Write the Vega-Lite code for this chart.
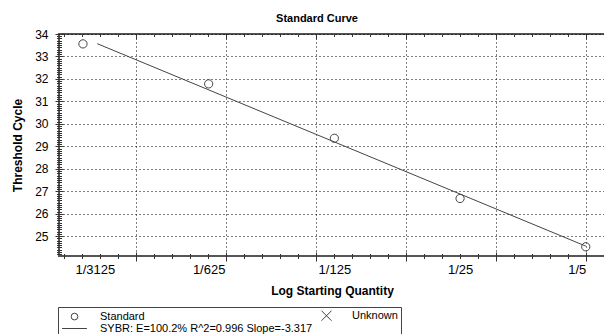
{
  "$schema": "https://vega.github.io/schema/vega-lite/v6.json",
  "width": 546,
  "height": 222,
  "autosize": {"type": "none"},
  "padding": {"left": 59, "top": 34, "right": 0, "bottom": 78},
  "title": {"text": "Standard Curve", "fontSize": 11, "fontWeight": "bold", "font": "Liberation Sans", "color": "#000", "offset": 4, "dx": -15, "anchor": "middle"},
  "config": {
    "font": "Liberation Sans",
    "view": {"stroke": "#555", "strokeWidth": 2},
    "legend": {
      "orient": "none", "legendX": -1, "legendY": 273,
      "columns": 2, "gridAlign": "all", "columnPadding": -5, "rowPadding": -1,
      "padding": 3, "strokeColor": "#444", "fillColor": "white",
      "labelFontSize": 11, "labelColor": "#000", "labelFont": "Liberation Sans", "labelLimit": 400,
      "symbolSize": 45, "symbolStrokeColor": "#444", "symbolFillColor": "transparent", "symbolStrokeWidth": 1,
      "symbolOffset": 8, "labelOffset": 20
    }
  },
  "datasets": {
    "points": [
      {"log_quantity": -3.49485, "ct": 33.56, "series": "Standard"},
      {"log_quantity": -2.79588, "ct": 31.78, "series": "Standard"},
      {"log_quantity": -2.09691, "ct": 29.36, "series": "Standard"},
      {"log_quantity": -1.39794, "ct": 26.68, "series": "Standard"},
      {"log_quantity": -0.69897, "ct": 24.53, "series": "Standard"}
    ],
    "fit": [
      {"log_quantity": -3.4155, "ct": 33.57},
      {"log_quantity": -0.699, "ct": 24.56}
    ]
  },
  "resolve": {"axis": {"x": "independent", "y": "independent"}},
  "layer": [
    {
      "data": {"name": "fit"},
      "mark": {"type": "line", "color": "#444", "strokeWidth": 1},
      "encoding": {
        "x": {"field": "log_quantity", "type": "quantitative", "scale": {"domain": [-3.628, -0.592], "nice": false, "zero": false},
          "axis": {"orient": "bottom", "values": [-0.699, -1.199, -1.699, -2.199, -2.699, -3.199], "grid": true, "gridDash": [1, 3], "gridColor": "#000", "gridWidth": 1, "labels": false, "ticks": false, "domain": false, "title": null}},
        "y": {"field": "ct", "type": "quantitative", "scale": {"domain": [24.12, 34], "nice": false, "zero": false},
          "axis": {"orient": "left", "values": [25, 26, 27, 28, 29, 30, 31, 32, 33, 34], "grid": false, "labels": false, "ticks": true, "tickSize": 8, "offset": -4, "tickColor": "#333", "tickWidth": 1, "domain": false, "title": null}}
      }
    },
    {
      "data": {"name": "points"},
      "mark": {"type": "point", "filled": false, "size": 68, "color": "#444", "strokeWidth": 1, "opacity": 1},
      "encoding": {
        "x": {"field": "log_quantity", "type": "quantitative",
          "axis": {"orient": "bottom", "values": [-3.49485, -2.79588, -2.09691, -1.39794, -0.69897],
            "labelExpr": "'1/' + format(pow(10, -datum.value), '.0f')",
            "labelAlign": {"condition": [{"test": "datum.value < -3", "value": "left"}, {"test": "datum.value > -1", "value": "right"}], "value": "center"},
            "labelOffset": {"condition": {"test": "datum.value < -3", "value": -8}, "value": 0},
            "title": "Log Starting Quantity", "grid": false, "ticks": false, "domain": false,
            "labelFontSize": 13, "labelColor": "#000", "labelPadding": 7,
            "titleFontSize": 12, "titleFontWeight": "bold", "titleColor": "#000", "titlePadding": 9}},
        "y": {"field": "ct", "type": "quantitative",
          "axis": {"orient": "left", "values": [25, 26, 27, 28, 29, 30, 31, 32, 33, 34], "title": "Threshold Cycle",
            "grid": true, "gridDash": [1, 3], "gridColor": "#000", "gridWidth": 1, "ticks": false, "domain": false,
            "labelFontSize": 12, "labelColor": "#000", "labelPadding": 11,
            "titleFontSize": 12, "titleFontWeight": "bold", "titleColor": "#000", "titlePadding": 10}},
        "shape": {"field": "series", "type": "nominal",
          "scale": {"domain": ["Standard", "SYBR: E=100.2% R^2=0.996 Slope=-3.317", "Unknown"],
            "range": ["circle", "M-3.7,0L3.7,0", "M-1.5,-1.5L1.5,1.5M-1.5,1.5L1.5,-1.5"]},
          "legend": {"title": null}}
      }
    },
    {
      "data": {"name": "points"},
      "mark": {"type": "point", "opacity": 0},
      "encoding": {
        "x": {"field": "log_quantity", "type": "quantitative",
          "axis": {"orient": "bottom", "values": [-0.699, -1.199, -1.699, -2.199, -2.699, -3.199], "grid": false, "labels": false, "ticks": true, "tickSize": 9, "offset": -4, "tickColor": "#333", "tickWidth": 1, "domain": false, "title": null}},
        "y": {"field": "ct", "type": "quantitative",
          "axis": {"orient": "left", "tickCount": 100, "grid": false, "labels": false, "ticks": true, "tickSize": 5, "offset": -2.5, "tickColor": "#333", "tickWidth": 1, "domain": false, "title": null}}
      }
    },
    {
      "data": {"name": "points"},
      "mark": {"type": "point", "opacity": 0},
      "encoding": {
        "x": {"field": "log_quantity", "type": "quantitative",
          "axis": {"orient": "bottom", "values": [-0.599, -0.799, -0.899, -0.999, -1.099, -1.299, -1.399, -1.499, -1.599, -1.799, -1.899, -1.999, -2.099, -2.299, -2.399, -2.499, -2.599, -2.799, -2.899, -2.999, -3.099, -3.299, -3.399, -3.499, -3.599], "grid": false, "labels": false, "ticks": true, "tickSize": 5, "offset": -2.5, "tickColor": "#333", "tickWidth": 1, "domain": false, "title": null}},
        "y": {"field": "ct", "type": "quantitative", "axis": null}
      }
    },
    {
      "data": {"name": "points"},
      "mark": {"type": "point", "opacity": 0},
      "encoding": {
        "x": {"field": "log_quantity", "type": "quantitative",
          "axis": {"orient": "top", "values": [-0.699, -1.199, -1.699, -2.199, -2.699, -3.199], "grid": false, "labels": false, "ticks": true, "tickSize": 5, "offset": -5, "tickColor": "#333", "tickWidth": 1, "domain": false, "title": null}},
        "y": {"field": "ct", "type": "quantitative", "axis": null}
      }
    },
    {
      "data": {"name": "points"},
      "mark": {"type": "point", "opacity": 0},
      "encoding": {
        "x": {"field": "log_quantity", "type": "quantitative",
          "axis": {"orient": "top", "values": [-0.599, -0.799, -0.899, -0.999, -1.099, -1.299, -1.399, -1.499, -1.599, -1.799, -1.899, -1.999, -2.099, -2.299, -2.399, -2.499, -2.599, -2.799, -2.899, -2.999, -3.099, -3.299, -3.399, -3.499, -3.599], "grid": false, "labels": false, "ticks": true, "tickSize": 2.5, "offset": -2.5, "tickColor": "#333", "tickWidth": 1, "domain": false, "title": null}},
        "y": {"field": "ct", "type": "quantitative", "axis": null}
      }
    }
  ]
}
